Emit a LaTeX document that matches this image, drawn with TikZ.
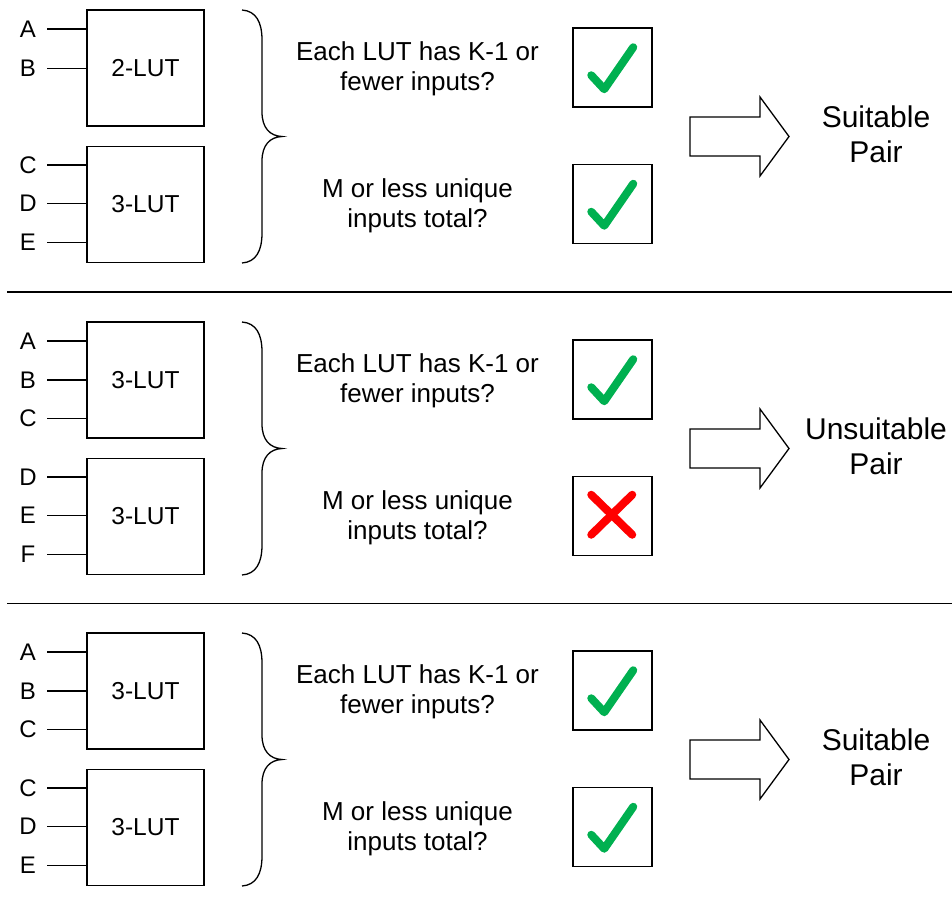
\documentclass[tikz,border=0pt]{standalone}
\usepackage{fontspec}
\setmainfont{Liberation Sans}
\definecolor{okgreen}{HTML}{00B050}
\definecolor{nored}{HTML}{FF0000}
\tikzset{
  lut/.style={draw, line width=1.3pt, minimum width=117pt, minimum height=116pt, inner sep=0pt, font=\fontsize{24.5}{28}\selectfont},
  inlab/.style={minimum width=38pt, inner sep=0pt, font=\fontsize{24}{28}\selectfont},
  wire/.style={line width=1.3pt},
  qtext/.style={align=center, font=\fontsize{26}{30}\selectfont, inner sep=0pt},
  restext/.style={align=center, font=\fontsize{30}{35}\selectfont, inner sep=0pt},
  chkbox/.style={draw, line width=1.5pt, minimum size=79pt, inner sep=0pt},
  tick/.style={okgreen, line width=8pt, line cap=round, line join=round},
  crossmark/.style={nored, line width=8pt, line cap=round},
  brc/.style={line width=1.3pt},
  bigarrow/.style={draw, line width=1.3pt, fill=white, line join=miter},
  sepline/.style={line width=1.5pt}
}
\newcommand{\mytick}[1]{\draw[tick] ([shift={(19,48)}]#1.north west) -- ([shift={(32,62)}]#1.north west) -- ([shift={(61,20)}]#1.north west);}
\newcommand{\mycross}[1]{\draw[crossmark] ([shift={(19,19)}]#1.north west) -- ([shift={(60,59)}]#1.north west); \draw[crossmark] ([shift={(60,19)}]#1.north west) -- ([shift={(19,59)}]#1.north west);}
\newcommand{\mybrace}{\draw[brc] (242,10) .. controls (256,11) and (262,22) .. (262,40) -- (262,112) .. controls (262,128) and (270,136) .. (282,136.5) .. controls (270,137) and (262,145) .. (262,161) -- (262,233) .. controls (262,251) and (256,262) .. (242,263);}
\newcommand{\myarrow}{\draw[bigarrow] (690,117) -- (760,117) -- (760,97) -- (789,136.5) -- (760,176) -- (760,156) -- (690,156) -- cycle;}
\begin{document}
\begin{tikzpicture}[x=1pt, y=-1pt]
\useasboundingbox (0,0) rectangle (952,913);

% ---------- panel 1 ----------
\begin{scope}
  \node[lut] (L1a) at (145.5,68) {2-LUT};
  \node[lut] (L1b) at (145.5,204.5) {3-LUT};
  \node[inlab] (p1A) at (28,29) {A};
  \node[inlab] (p1B) at (28,68.5) {B};
  \node[inlab] (p1C) at (28,165) {C};
  \node[inlab] (p1D) at (28,203.5) {D};
  \node[inlab] (p1E) at (28,242.5) {E};
  \foreach \n/\b in {p1A/L1a, p1B/L1a, p1C/L1b, p1D/L1b, p1E/L1b}
    \draw[wire] (\n.east) -- (\n.east -| \b.west);
  \mybrace
  \node[qtext] (q1a) at (417.5,68.5) {Each LUT has K-1 or\\fewer inputs?};
  \node[qtext] (q1b) at (417.5,206) {M or less unique\\inputs total?};
  \node[chkbox] (c1a) at (612.5,67.5) {};
  \node[chkbox] (c1b) at (612.5,204) {};
  \mytick{c1a}
  \mytick{c1b}
  \myarrow
  \node[restext] (r1) at (876,134.5) {Suitable\\Pair};
\end{scope}

\draw[sepline] (7,292) -- (952,292);

% ---------- panel 2 ----------
\begin{scope}[yshift=-312pt]
  \node[lut] (L2a) at (145.5,68) {3-LUT};
  \node[lut] (L2b) at (145.5,204.5) {3-LUT};
  \node[inlab] (p2A) at (28,29) {A};
  \node[inlab] (p2B) at (28,68) {B};
  \node[inlab] (p2C) at (28,106.5) {C};
  \node[inlab] (p2D) at (28,165) {D};
  \node[inlab] (p2E) at (28,203.5) {E};
  \node[inlab] (p2F) at (28,242.5) {F};
  \foreach \n/\b in {p2A/L2a, p2B/L2a, p2C/L2a, p2D/L2b, p2E/L2b, p2F/L2b}
    \draw[wire] (\n.east) -- (\n.east -| \b.west);
  \mybrace
  \node[qtext] (q2a) at (417.5,68.5) {Each LUT has K-1 or\\fewer inputs?};
  \node[qtext] (q2b) at (417.5,206) {M or less unique\\inputs total?};
  \node[chkbox] (c2a) at (612.5,67.5) {};
  \node[chkbox] (c2b) at (612.5,204) {};
  \mytick{c2a}
  \mycross{c2b}
  \myarrow
  \node[restext] (r2) at (876,134.5) {Unsuitable\\Pair};
\end{scope}

\draw[sepline] (7,603.5) -- (952,603.5);

% ---------- panel 3 ----------
\begin{scope}[yshift=-623pt]
  \node[lut] (L3a) at (145.5,68) {3-LUT};
  \node[lut] (L3b) at (145.5,204.5) {3-LUT};
  \node[inlab] (p3A) at (28,29) {A};
  \node[inlab] (p3B) at (28,68) {B};
  \node[inlab] (p3C) at (28,106.5) {C};
  \node[inlab] (p3C2) at (28,165) {C};
  \node[inlab] (p3D) at (28,203.5) {D};
  \node[inlab] (p3E) at (28,242.5) {E};
  \foreach \n/\b in {p3A/L3a, p3B/L3a, p3C/L3a, p3C2/L3b, p3D/L3b, p3E/L3b}
    \draw[wire] (\n.east) -- (\n.east -| \b.west);
  \mybrace
  \node[qtext] (q3a) at (417.5,68.5) {Each LUT has K-1 or\\fewer inputs?};
  \node[qtext] (q3b) at (417.5,206) {M or less unique\\inputs total?};
  \node[chkbox] (c3a) at (612.5,67.5) {};
  \node[chkbox] (c3b) at (612.5,204) {};
  \mytick{c3a}
  \mytick{c3b}
  \myarrow
  \node[restext] (r3) at (876,134.5) {Suitable\\Pair};
\end{scope}
\end{tikzpicture}
\end{document}
